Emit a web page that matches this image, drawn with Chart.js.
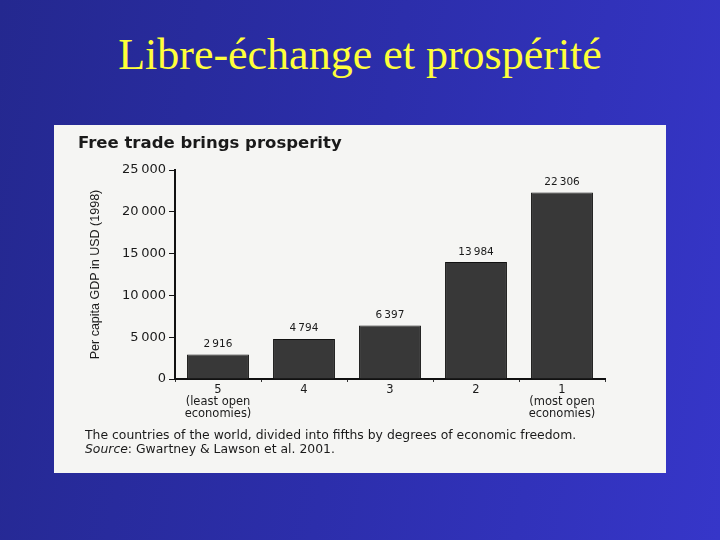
<!DOCTYPE html>
<html>
<head>
<meta charset="utf-8">
<script src="https://cdn.jsdelivr.net/npm/chart.js@4"></script>
<style>
html, body { margin: 0; padding: 0; }
body {
    width: 720px; height: 540px; overflow: hidden; position: relative;
    background: linear-gradient(100deg, #24288f 0%, #2c2eab 50%, #3636c9 100%);
}
#title {
    position: absolute; left: 0; top: 29px; width: 720px; text-align: center;
    font-family: "Liberation Serif", "Times New Roman", serif; font-size: 44px;
    color: #ffff3a;
}
#panel {
    position: absolute; left: 54px; top: 125px; width: 612px; height: 348px;
    background: #f5f5f3;
}
#chartTitle {
    position: absolute; left: 24px; top: 8px;
    font-family: "DejaVu Sans", Verdana, sans-serif; font-weight: bold; font-size: 16.5px;
    color: #1a1a1a;
}
#caption {
    position: absolute; left: 31px; top: 303px;
    font-family: "DejaVu Sans", Verdana, sans-serif; font-size: 12.4px; line-height: 14px;
    color: #1a1a1a;
}
#wrap { position: absolute; left: 0; top: 0; width: 612px; height: 348px; }
</style>
</head>
<body>
<div id="title">Libre-échange et prospérité</div>
<div id="panel">
    <div id="wrap"><canvas id="gdp_chart"></canvas></div>
    <div id="chartTitle">Free trade brings prosperity</div>
    <div id="caption">The countries of the world, divided into fifths by degrees of economic freedom.<br><i>Source</i>: Gwartney &amp; Lawson et al. 2001.</div>
</div>
<script>
var categories = [
    ["5", "(least open", "economies)"],
    ["4"],
    ["3"],
    ["2"],
    ["1", "(most open", "economies)"]
];
var gdp = [2916, 4794, 6397, 13984, 22306];
var yTicks = [0, 5000, 10000, 15000, 20000, 25000];

function fmt(v) {
    // thousands separated by a thin space, like the print
    var s = String(v);
    if (s.length > 3) s = s.slice(0, s.length - 3) + "\u2009" + s.slice(s.length - 3);
    return s;
}

var valueLabels = {
    id: "valueLabels",
    afterDatasetsDraw: function(chart) {
        var ctx = chart.ctx;
        var meta = chart.getDatasetMeta(0);
        ctx.save();
        ctx.font = "10.5px 'DejaVu Sans', Verdana, sans-serif";
        ctx.fillStyle = "#1a1a1a";
        ctx.textAlign = "center";
        ctx.textBaseline = "bottom";
        meta.data.forEach(function(bar, i) {
            ctx.fillText(fmt(gdp[i]), bar.x, bar.y - 5);
        });
        ctx.restore();
    }
};

var ctx = document.getElementById("gdp_chart");
var chart = new Chart(ctx, {
    type: "bar",
    data: {
        labels: categories,
        datasets: [{
            data: gdp,
            backgroundColor: "#383838",
            borderColor: "#111",
            borderWidth: 1,
            barPercentage: 0.72,
            categoryPercentage: 1.0
        }]
    },
    options: {
        responsive: true,
        maintainAspectRatio: false,
        animation: false,
        events: [],
        layout: { padding: { top: 45, right: 61, bottom: 0, left: 0 } },
        plugins: {
            legend: { display: false },
            tooltip: { enabled: false }
        },
        scales: {
            x: {
                afterFit: function(s) { s.height = 94; },
                border: { color: "#111", width: 2 },
                grid: { offset: true, drawOnChartArea: false, tickLength: 3, color: "#333" },
                ticks: {
                    color: "#1a1a1a",
                    padding: 2,
                    font: { family: "'DejaVu Sans', Verdana, sans-serif", size: 11.5, lineHeight: 1.05 }
                }
            },
            y: {
                min: 0,
                max: 25000,
                afterFit: function(s) { s.width = 121; },
                afterBuildTicks: function(s) {
                    s.ticks = yTicks.map(function(v) { return { value: v }; });
                },
                border: { color: "#111", width: 2 },
                grid: { drawOnChartArea: false, tickLength: 6, color: "#111" },
                ticks: {
                    color: "#1a1a1a",
                    padding: 3,
                    font: { family: "'DejaVu Sans', Verdana, sans-serif", size: 13 },
                    callback: function(v) { return fmt(v); }
                },
                title: {
                    display: true,
                    text: "Per capita GDP in USD (1998)",
                    color: "#1a1a1a",
                    padding: { top: 34, bottom: 0 },
                    font: { family: "'Liberation Sans', Arial, sans-serif", size: 12.5 }
                }
            }
        }
    },
    plugins: [valueLabels]
});
</script>
</body>
</html>
